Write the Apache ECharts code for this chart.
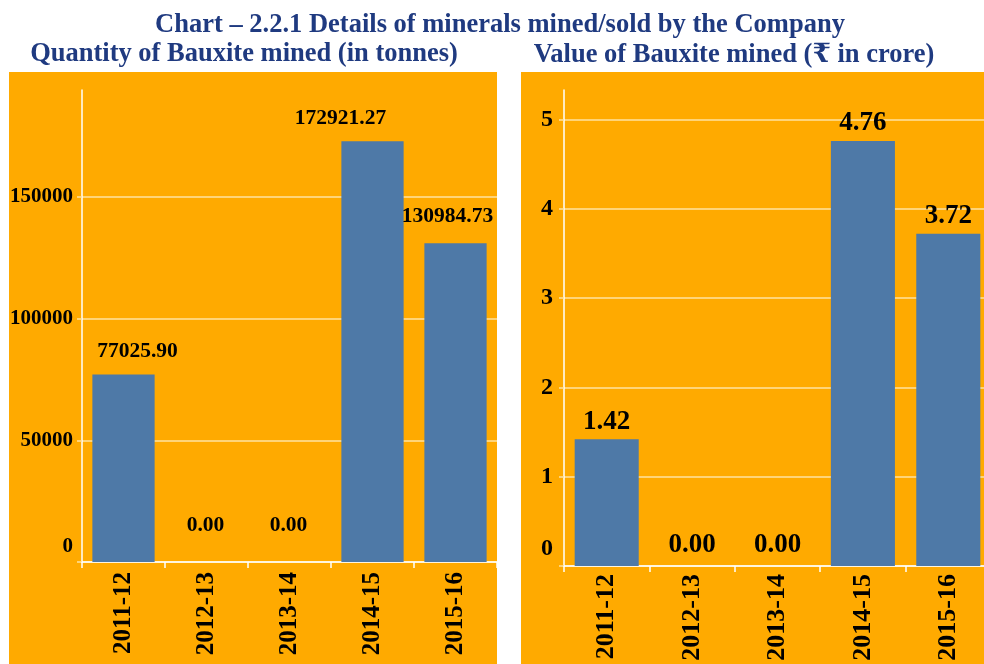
<!DOCTYPE html>
<html>
<head>
<meta charset="utf-8">
<script src="https://cdn.jsdelivr.net/npm/echarts@6/dist/echarts.min.js"></script>
<style>
  html, body { margin: 0; padding: 0; background: #ffffff; }
  #chart { width: 984px; height: 664px; }
</style>
</head>
<body>
<div id="chart"></div>
<script>
// Financial years shown on both panels
const years = ['2011-12', '2012-13', '2013-14', '2014-15', '2015-16'];
// Quantity of bauxite mined, tonnes
const quantityTonnes = [77025.90, 0.00, 0.00, 172921.27, 130984.73];
// Value of bauxite mined, ₹ crore
const valueCrore = [1.42, 0.00, 0.00, 4.76, 3.72];
// Value-axis tick steps and ranges
const quantityStep = 50000;
const quantityMax = 194000;
const valueStep = 1;
const valueMax = 5.33;

const SERIF = '"Liberation Serif", "Times New Roman", "DejaVu Serif", serif';
const ORANGE = '#FFAA00';
const BAR = '#4E79A7';
const GRID_LINE = '#FFE2A0';
const AXIS_LINE = '#FFFFFF';
const NAVY = '#1F3A80';

// Hand-placed nudges for the quantity panel's value labels (x, y in px)
const quantityLabelNudge = [[14, 0], [-1, 0], [-1, 0], [-32, 0], [-8, -4]];

const chart = echarts.init(document.getElementById('chart'), null, { renderer: 'canvas' });

function valueAxis(gridIndex, max, step, fontSize, margin, zeroLift) {
  return {
    type: 'value',
    gridIndex: gridIndex,
    min: 0,
    max: max,
    interval: step,
    axisLine: { show: true, lineStyle: { color: AXIS_LINE, width: 1.5 } },
    axisTick: { show: true, length: 5, lineStyle: { color: GRID_LINE, width: 1.5 } },
    splitLine: { show: true, showMaxLine: false, lineStyle: { color: GRID_LINE, width: 1.5 } },
    axisLabel: {
      showMaxLabel: false,
      margin: margin,
      color: '#000',
      fontFamily: SERIF,
      fontWeight: 'bold',
      fontSize: fontSize,
      formatter: function (v) {
        if (Math.abs(v / step - Math.round(v / step)) > 1e-6) return '';
        return v === 0 ? '{z|0}' : String(v);
      },
      rich: {
        z: { fontFamily: SERIF, fontWeight: 'bold', fontSize: fontSize, color: '#000', padding: [0, 0, zeroLift, 0] }
      }
    }
  };
}

function categoryAxis(gridIndex, fontSize, margin) {
  return {
    type: 'category',
    gridIndex: gridIndex,
    data: years,
    axisLine: { show: true, lineStyle: { color: AXIS_LINE, width: 1.5 } },
    axisTick: { show: true, length: 6, alignWithLabel: false, lineStyle: { color: AXIS_LINE, width: 1.5 } },
    splitLine: { show: false },
    axisLabel: {
      rotate: 90,
      margin: margin,
      interval: 0,
      color: '#000',
      fontFamily: SERIF,
      fontWeight: 'bold',
      fontSize: fontSize
    }
  };
}

function barSeries(idx, values, fontSize, distance, zeroDistance, nudges) {
  return {
    type: 'bar',
    xAxisIndex: idx,
    yAxisIndex: idx,
    barWidth: '75%',
    itemStyle: { color: BAR },
    data: values.map(function (v, i) {
      const lbl = { distance: v === 0 ? zeroDistance : distance };
      if (nudges) lbl.offset = nudges[i];
      return { value: v, label: lbl };
    }),
    label: {
      show: true,
      position: 'top',
      color: '#000',
      fontFamily: SERIF,
      fontWeight: 'bold',
      fontSize: fontSize,
      formatter: function (p) { return p.value.toFixed(2); }
    },
    animation: false
  };
}

const option = {
  animation: false,
  backgroundColor: '#ffffff',
  graphic: [
    { type: 'rect', z: -10, silent: true, shape: { x: 9, y: 72, width: 488, height: 592 }, style: { fill: ORANGE } },
    { type: 'rect', z: -10, silent: true, shape: { x: 521, y: 72, width: 463, height: 592 }, style: { fill: ORANGE } },
    { type: 'text', x: 500, y: 25, style: { text: 'Chart – 2.2.1 Details of minerals mined/sold by the Company', fill: NAVY, font: 'bold 26.5px ' + SERIF, align: 'center', verticalAlign: 'middle' } },
    { type: 'text', x: 244, y: 54, style: { text: 'Quantity of Bauxite mined (in tonnes)', fill: NAVY, font: 'bold 26.5px ' + SERIF, align: 'center', verticalAlign: 'middle' } },
    { type: 'text', x: 734, y: 55, style: { text: 'Value of Bauxite mined (₹ in crore)', fill: NAVY, font: 'bold 26.5px ' + SERIF, align: 'center', verticalAlign: 'middle' } }
  ],
  grid: [
    { left: 82, width: 415, top: 90, bottom: 102, containLabel: false, outerBoundsMode: 'none' },
    { left: 564, width: 427, top: 90, bottom: 98, containLabel: false, outerBoundsMode: 'none' }
  ],
  xAxis: [
    categoryAxis(0, 25, 10),
    categoryAxis(1, 26, 8)
  ],
  yAxis: [
    valueAxis(0, quantityMax, quantityStep, 21, 9, 30),
    valueAxis(1, valueMax, valueStep, 24, 11, 35)
  ],
  series: [
    barSeries(0, quantityTonnes, 21.5, 12, 26, quantityLabelNudge),
    barSeries(1, valueCrore, 27, 4, 7, null)
  ]
};

chart.setOption(option);
</script>
</body>
</html>
